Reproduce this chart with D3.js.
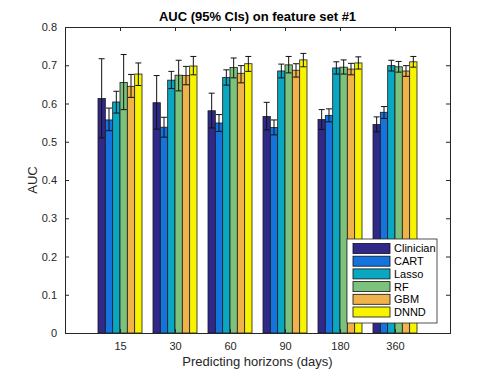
<!DOCTYPE html>
<html lang="en">
<head>
<meta charset="utf-8">
<title>AUC bars</title>
<style>
body { margin: 0; background: #fff; }
svg { font-family: "Liberation Sans", Arial, sans-serif; }
.axis path, .axis line { stroke: #262626; }
.axis text { fill: #262626; font-size: 11px; }
</style>
</head>
<body>
<svg width="498" height="374"></svg>
<script src="https://cdn.jsdelivr.net/npm/d3@7"></script>
<script>

// horizons on the x axis
const horizons = ["15", "30", "60", "90", "180", "360"];
const models = ["Clinician", "CART", "Lasso", "RF", "GBM", "DNND"];
const colors = ["#30298a", "#1573df", "#0aa7c2", "#7cc27c", "#f0b24b", "#f8f400"];

// AUC per model, one value per horizon
const auc = {
  Clinician: [0.613, 0.602, 0.581, 0.566, 0.558, 0.545],
  CART:      [0.557, 0.538, 0.549, 0.537, 0.569, 0.577],
  Lasso:     [0.604, 0.661, 0.668, 0.685, 0.693, 0.699],
  RF:        [0.655, 0.674, 0.694, 0.701, 0.695, 0.696],
  GBM:       [0.645, 0.673, 0.679, 0.687, 0.690, 0.685],
  DNND:      [0.677, 0.698, 0.704, 0.714, 0.706, 0.709]
};
const ciLow = {
  Clinician: [0.510, 0.533, 0.536, 0.531, 0.532, 0.526],
  CART:      [0.529, 0.512, 0.527, 0.518, 0.552, 0.561],
  Lasso:     [0.575, 0.639, 0.648, 0.667, 0.677, 0.685],
  RF:        [0.584, 0.633, 0.667, 0.680, 0.677, 0.682],
  GBM:       [0.616, 0.649, 0.654, 0.669, 0.675, 0.671],
  DNND:      [0.647, 0.675, 0.684, 0.696, 0.690, 0.695]
};
const ciHigh = {
  Clinician: [0.717, 0.673, 0.627, 0.603, 0.584, 0.565],
  CART:      [0.588, 0.564, 0.571, 0.557, 0.586, 0.592],
  Lasso:     [0.632, 0.684, 0.688, 0.703, 0.709, 0.713],
  RF:        [0.728, 0.713, 0.719, 0.723, 0.714, 0.710],
  GBM:       [0.676, 0.697, 0.699, 0.704, 0.705, 0.699],
  DNND:      [0.706, 0.723, 0.723, 0.731, 0.722, 0.723]
};
const yTicks = [0, 0.1, 0.2, 0.3, 0.4, 0.5, 0.6, 0.7, 0.8];

let mLeft = 65, mRight = 450, mTop = 27, mBottom = 333;

let svg = d3.select("svg");

// positions 1..6 on a [0,7] range, like the matlab default
let x = d3.scaleLinear().domain([0, 7]).range([mLeft, mRight]);
let y = d3.scaleLinear().domain([0, 0.8]).range([mBottom, mTop]);

let groupW = (x(1) - x(0)) * 0.8;
let barW = groupW / models.length;

let rows = [];
models.forEach(function(m, j) {
  horizons.forEach(function(h, i) {
    rows.push({m: m, j: j, i: i, v: auc[m][i], lo: ciLow[m][i], hi: ciHigh[m][i]});
  });
});

function cx(d) { return x(d.i + 1) - groupW / 2 + (d.j + 0.5) * barW; }

svg.append("g").selectAll("rect")
    .data(rows)
  .enter().append("rect")
    .attr("x", function(d) { return cx(d) - barW / 2; })
    .attr("y", function(d) { return y(d.v); })
    .attr("width", barW)
    .attr("height", function(d) { return y(0) - y(d.v); })
    .attr("fill", function(d) { return colors[d.j]; })
    .attr("stroke", "#1a1a1a")
    .attr("stroke-width", 0.8);

// error bars
let eb = svg.append("g").attr("stroke", "#111").attr("stroke-width", 1);
eb.selectAll(".v").data(rows).enter().append("line")
    .attr("x1", cx).attr("x2", cx)
    .attr("y1", function(d) { return y(d.lo); })
    .attr("y2", function(d) { return y(d.hi); });
eb.selectAll(".t").data(rows).enter().append("line")
    .attr("x1", function(d) { return cx(d) - 3; }).attr("x2", function(d) { return cx(d) + 3; })
    .attr("y1", function(d) { return y(d.hi); }).attr("y2", function(d) { return y(d.hi); });
eb.selectAll(".b").data(rows).enter().append("line")
    .attr("x1", function(d) { return cx(d) - 3; }).attr("x2", function(d) { return cx(d) + 3; })
    .attr("y1", function(d) { return y(d.lo); }).attr("y2", function(d) { return y(d.lo); });

// axes, box style with inward ticks
let xTickVals = horizons.map(function(h, i) { return i + 1; });

svg.append("g").attr("class", "axis")
    .attr("transform", "translate(0," + mBottom + ")")
    .call(d3.axisBottom(x).tickValues(xTickVals).tickSize(-4).tickPadding(9)
      .tickFormat(function(d) { return horizons[d - 1]; }));

svg.append("g").attr("class", "axis")
    .attr("transform", "translate(0," + mTop + ")")
    .call(d3.axisTop(x).tickValues(xTickVals).tickSize(-4).tickFormat(""));

svg.append("g").attr("class", "axis")
    .attr("transform", "translate(" + mLeft + ",0)")
    .call(d3.axisLeft(y).tickValues(yTicks).tickSize(-4).tickPadding(8)
      .tickFormat(function(d) { return d === 0 ? "0" : d3.format(".1f")(d); }));

svg.append("g").attr("class", "axis")
    .attr("transform", "translate(" + mRight + ",0)")
    .call(d3.axisRight(y).tickValues(yTicks).tickSize(-4).tickFormat(""));

svg.selectAll(".axis .domain").attr("stroke-width", 1);

// labels
svg.append("text")
    .attr("x", (mLeft + mRight) / 2).attr("y", 21)
    .attr("text-anchor", "middle")
    .style("font-size", "13px").style("font-weight", "bold").attr("fill", "#000")
    .text("AUC (95% CIs) on feature set #1");

svg.append("text")
    .attr("x", (mLeft + mRight) / 2).attr("y", 366)
    .attr("text-anchor", "middle")
    .style("font-size", "13px").attr("fill", "#262626")
    .text("Predicting horizons (days)");

svg.append("text")
    .attr("transform", "translate(37," + (mTop + mBottom) / 2 + ") rotate(-90)")
    .attr("text-anchor", "middle")
    .style("font-size", "13px").attr("fill", "#262626")
    .text("AUC");

// legend
let lg = svg.append("g").attr("transform", "translate(347,239)");
lg.append("rect")
    .attr("width", 90).attr("height", 84)
    .attr("fill", "#fff").attr("stroke", "#262626").attr("stroke-width", 0.8);

let item = lg.selectAll(".item")
    .data(models)
  .enter().append("g")
    .attr("transform", function(d, i) { return "translate(0," + (9.5 + i * 12.7) + ")"; });

item.append("rect")
    .attr("x", 6).attr("y", -5).attr("width", 37).attr("height", 10)
    .attr("fill", function(d, i) { return colors[i]; })
    .attr("stroke", "#111").attr("stroke-width", 0.8);

item.append("text")
    .attr("x", 47).attr("y", 0).attr("dy", "0.36em")
    .style("font-size", "11px").attr("fill", "#000")
    .text(function(d) { return d; });

</script>
</body>
</html>
